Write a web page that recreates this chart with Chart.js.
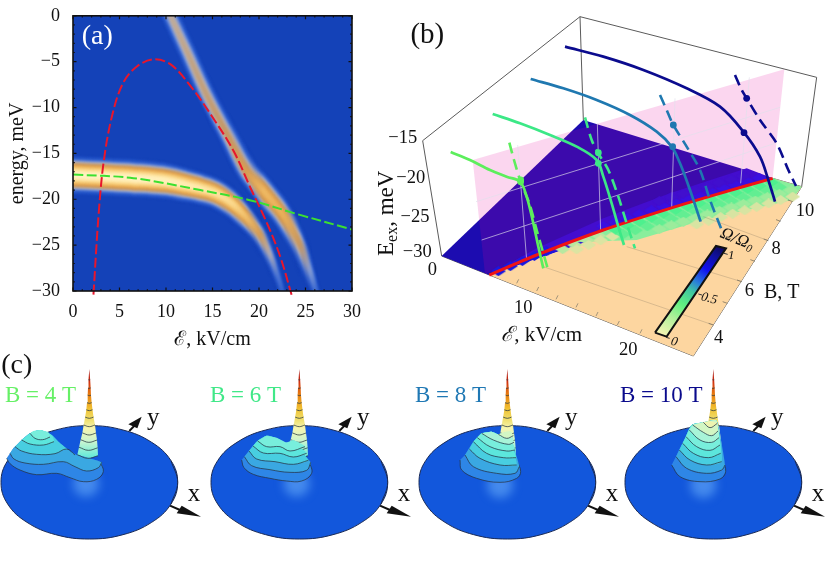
<!DOCTYPE html>
<html><head><meta charset="utf-8">
<style>html,body{margin:0;padding:0;background:#fff;overflow:hidden;width:830px;height:564px}
canvas{position:absolute;filter:blur(.4px)}</style>
<script src="https://cdn.jsdelivr.net/npm/chart.js@4/dist/chart.umd.min.js"></script>
</head><body>
<script>
/* ---------- panel (a): field (kV/cm) / energy (meV) ---------- */
const lowerField=[-1,0,3,6.5,10,12,13.7,15.5,17.3,18.5,20.1,21.2,22,22.8];
const lowerEnergy=[-17.3,-17.35,-17.5,-17.7,-18,-18.4,-18.8,-19.4,-20.6,-21.8,-23.8,-26,-28.2,-31];
const lowerWidth=[7,7,7,7,6.8,6.5,6.2,5.8,5.2,4.6,3.8,3.2,2.8,2.4];
const lowerAmp=[1,1,1,1,.95,.9,.85,.8,.7,.55,.33,.18,.1,.06];
const upperField=[10.2,10.5,12.3,14.4,16.6,18.7,20.5,22.6,24.4,25.5,26.2,26.6];
const upperEnergy=[1,0,-4,-8.7,-13,-17,-19.1,-21.7,-24.9,-27.8,-30,-31];
const upperWidth=[4.5,4.5,4.5,4.5,4.6,5,5.6,5.2,4.2,3.4,3,2.6];
const upperAmp=[.2,.2,.22,.24,.27,.33,.5,.45,.28,.14,.08,.06];
const redField=[2.2,2.75,3.3,4.2,5.4,6.9,8.7,10.5,12.6,15.1,17.3,19.1,20.9,22.3,23.5];
const redEnergy=[-30.4,-21.7,-15.9,-10.9,-7.3,-5.5,-4.75,-5.3,-7.6,-11.2,-14.8,-18.8,-22.7,-26.3,-30.4];
const greenField=[0,6.5,13.7,19,24.4,30];
const greenEnergy=[-17.3,-17.7,-19,-20.1,-21.7,-23.3];
const ticksA=[0,5,10,15,20,25,30];

/* ---------- panel (b): projected view units of the 3D box ---------- */
const boxEdges=[[[158,422],[630,50]],[[630,50],[1340,232]],[[630,50],[640,360]],[[1340,232],[1295,560]],[[158,422],[215,768]],[[215,768],[358,825]],[[358,825],[970,1068]],[[970,1068],[1295,560]],[[1208,535],[1295,560]]];
const floorBlue=[[215,768],[640,360],[1208,535],[358,825]];
const brightStrip=[[358,825],[1208,535],[1130,505],[900,580],[700,655],[500,745]];
const pinkPlane=[[308,480],[1243,208],[1208,535],[345,822]];
const planeGrid=[[[443,435],[470,780]],[[682,370],[692,695]],[[915,295],[905,625]],[[1138,232],[1112,550]],[[318,605],[1230,322]],[[335,720],[1215,430]]];
const tanFloor=[[358,825],[1208,535],[1295,560],[970,1068]];
const greenBase=[[600,727],[900,625],[1208,535],[1295,560],[1265,600],[1000,660],[800,720]];
const redLine=[[358,825],[500,765],[700,690],[900,625],[1050,580],[1208,535]];
const floorGrid=[[[520,800],[1030,975]],[[770,740],[1115,845]],[[1000,650],[1195,722]]];
const fieldTicks=[[440,850],[500,873],[558,898],[618,922],[678,948],[742,975],[810,1000]];
const bTicks=[[1030,975],[1072,910],[1115,845],[1155,784],[1195,722],[1232,664],[1268,605]];
const legendTicks=[[1062,760],[985,882],[888,1012]];
const cellRowsBack=[{dv:-12,from:700,to:1190,c:'#1a14ee'},{dv:-32,from:850,to:1130,c:'#2212d8'}];
const cellRowsFront=[{dv:0,from:385,to:560,c:'#1a18e0'},{dv:12,from:560,to:720,c:'#b8e8a0'},{dv:28,from:620,to:760,c:'#dce4a2'},{dv:12,from:720,to:1210,c:'#4ef08e'},{dv:32,from:760,to:1240,c:'#62ee92'},{dv:52,from:850,to:1270,c:'#9cec9c'},{dv:72,from:980,to:1270,c:'#d8e4a2'}];
const curves=[
 {c:'#5cee5c',solid:[[242,456],[300,480],[360,510],[410,530],[450,545],[470,590],[490,670],[505,740],[520,805]],dash:[[418,428],[432,480],[452,545],[478,610],[500,690],[520,760],[535,812]],dots:[[452,545],[452,540]]},
 {c:'#3ce886',solid:[[368,342],[450,370],[540,405],[620,440],[680,480],[700,530],[725,610],[745,680],[762,735]],dash:[[645,352],[665,420],[685,460],[715,510],[745,590],[770,670],[795,745]],dots:[[685,458],[685,490]]},
 {c:'#1f78b0',solid:[[482,237],[580,265],[680,300],[780,345],[860,395],[905,440],[930,490],[960,570],[992,665]],dash:[[870,285],[890,330],[910,375],[950,440],[990,510],[1020,600],[1055,690]],dots:[[910,375],[908,440]]},
 {c:'#0b0b8e',solid:[[585,140],[700,170],[820,210],[950,265],[1050,320],[1120,395],[1170,470],[1195,540],[1215,605]],dash:[[1095,225],[1115,270],[1130,295],[1170,360],[1220,430],[1255,510],[1278,558]],dots:[[1130,295],[1122,398]]}
];
const legendBar=[[855,998],[890,1010],[1068,745],[1038,738]];
const legendStops=[[0,'#f8f4b4'],[.2,'#b0f09a'],[.35,'#60f080'],[.5,'#40c8a0'],[.6,'#2a80d8'],[.75,'#1010f0'],[.9,'#10109c'],[1,'#0c0a60']];

/* ---------- panel (c): view units of each disk ---------- */
const diskOutline=[[513,347],[533,412],[513,477],[455,532],[369,569],[268,582],[167,569],[81,532],[23,477],[3,412],[23,347],[81,292],[167,255],[268,242],[369,255],[455,292],[513,347],[533,412],[513,477]];
const yArrowShaft=[[388,258],[410,235]], yArrowHead=[[425,215],[385,238],[412,250]];
const xArrowShaft=[[510,482],[540,495]], xArrowHead=[[603,515],[545,482],[530,505]];
const spikeRings=[[340,36,26],[316,31,25],[292,26,23],[270,21,20],[245,17,17],[220,12.5,12.5],[197,9,9.5],[175,7,7],[152,5,5],[130,4,4],[105,2.5,2.5]];
const spikeStops=[[72,'#a01010'],[110,'#d03010'],[150,'#e88010'],[190,'#f0c030'],[225,'#f0e070'],[250,'#f5f5b0'],[290,'#c8f5d0'],[330,'#70ecd8'],[360,'#50c8e8'],[395,'#2f8ae8']];
const levelColors=['#2e86e6','#3aa8e2','#48cee0','#5ce6dc','#78eedc','#a8f4d8','#d2f6c4','#eef4b0'];
const panels=[
 {label:'B = 4 T',color:'#66f066',lx:15,left:0,glow:[258,416],spikeOnTop:true,levels:[
  {arc:[[20,340],[30,356],[60,375],[110,389],[170,385],[210,398],[250,410],[290,403],[310,380],[300,350]],back:[[230,330],[205,315],[180,295],[155,270],[120,255],[90,265],[65,285],[40,310]]},
  {arc:[[30,325],[42,342],[75,354],[130,358],[190,350],[225,365],[260,378],[295,368],[305,352]],back:[[230,330],[205,315],[180,295],[155,270],[120,255],[90,265],[65,285],[40,310]]},
  {arc:[[45,305],[65,318],[110,328],[165,326],[200,312],[225,330]],back:[[175,290],[155,270],[120,255],[90,265],[65,285]]},
  {arc:[[65,285],[90,297],[130,300],[162,290]],back:[[155,270],[120,255],[90,265]]},
  {arc:[[90,265],[105,280],[128,284],[150,276]],back:[[145,262],[120,255],[100,258]]}]},
 {label:'B = 6 T',color:'#40e888',lx:0,left:210,glow:[260,416],spikeOnTop:false,levels:[
  {arc:[[95,345],[102,368],[130,388],[180,400],[230,408],[275,408],[305,385],[298,350]],back:[[250,310],[230,298],[200,280],[175,272],[140,290],[115,320]]},
  {arc:[[103,335],[125,362],[180,374],[240,382],[290,376],[302,352]],back:[[250,300],[230,298],[200,280],[170,272],[140,290],[115,320]]},
  {arc:[[117,318],[140,342],[195,350],[250,358],[295,346]],back:[[250,300],[230,298],[200,280],[170,272],[140,290]]},
  {arc:[[129,303],[160,324],[210,325],[250,336],[290,325]],back:[[250,295],[230,296],[200,280],[170,272],[145,285]]},
  {arc:[[143,288],[170,305],[210,305],[240,318],[285,305]],back:[[250,285],[230,292],[200,278],[170,272]]}]},
 {label:'B = 8 T',color:'#1f78b4',lx:-9,left:418,glow:[246,420],spikeOnTop:false,levels:[
  {arc:[[126,345],[131,375],[176,400],[246,412],[296,400],[308,380],[296,345]],back:[[285,300],[278,262],[241,268],[221,260],[191,265],[166,290],[141,330]]},
  {arc:[[141,330],[166,365],[236,385],[291,385],[304,365]],back:[[285,300],[278,262],[241,268],[221,260],[191,265],[166,290]]},
  {arc:[[154,312],[186,340],[246,360],[296,360]],back:[[282,300],[278,262],[241,268],[221,260],[191,265],[166,290]]},
  {arc:[[166,290],[206,325],[256,338],[294,338]],back:[[280,295],[278,262],[241,268],[221,260],[191,265]]},
  {arc:[[178,278],[216,305],[266,318],[291,315]],back:[[278,280],[276,262],[241,268],[221,260],[191,265]]},
  {arc:[[191,265],[226,285],[271,298],[288,292]],back:[[276,264],[241,268],[221,260]]},
  {arc:[[241,268],[266,280],[286,272]],back:[[276,258],[258,262]]}]},
 {label:'B = 10 T',color:'#0a0a8c',lx:-12,left:624,glow:[238,420],spikeOnTop:false,levels:[
  {arc:[[143,360],[168,395],[228,410],[288,402],[305,380],[296,345]],back:[[285,260],[276,226],[238,232],[203,240],[183,280],[158,330]]},
  {arc:[[156,335],[188,370],[248,385],[293,375],[303,360]],back:[[284,250],[276,226],[238,232],[203,240],[183,280]]},
  {arc:[[166,315],[198,345],[248,360],[293,350]],back:[[284,250],[276,226],[238,232],[203,240],[183,280]]},
  {arc:[[176,295],[208,325],[253,338],[290,325]],back:[[282,250],[276,226],[238,232],[203,240],[186,275]]},
  {arc:[[186,275],[218,305],[258,316],[288,300]],back:[[280,240],[276,226],[238,232],[203,240]]},
  {arc:[[196,255],[228,285],[263,292],[285,278]],back:[[280,235],[276,226],[238,232],[208,238]]},
  {arc:[[206,240],[238,262],[263,272],[282,258]],back:[[276,226],[238,232]]},
  {arc:[[238,232],[258,248],[280,235]],back:[[258,228]]}]}
];
const serif='"Liberation Serif",serif';

/* ---------- helpers ---------- */
const xy=a=>a.map(([x,y])=>({x,y}));
const line=(pts,color,w,extra={})=>Object.assign({data:xy(pts),showLine:true,pointRadius:0,borderColor:color,borderWidth:w,tension:0,fill:false},extra);
const poly=(pts,color,extra={})=>Object.assign({data:xy(pts),showLine:true,pointRadius:0,borderWidth:0,borderColor:'rgba(0,0,0,0)',backgroundColor:color,fill:'shape',tension:0},extra);
const segs=pairs=>pairs.flatMap(p=>[p[0],p[1],[NaN,NaN]]);
const tickPairs=(list,dx,dy)=>list.map(([u,v])=>[[u,v],[u+dx,v+dy]]);

function textPlugin(items){return{id:'viewText',afterDatasetsDraw(chart){
  const c=chart.ctx,X=chart.scales.x,Y=chart.scales.y;
  for(const it of items){
    c.save();c.translate(X.getPixelForValue(it.x),Y.getPixelForValue(it.y));c.rotate((it.rot||0)*Math.PI/180);
    c.fillStyle=it.color||'#111';c.textBaseline='alphabetic';c.textAlign='left';
    const parts=it.parts||[{t:it.t,font:it.font}];
    let w=0;for(const p of parts){c.font=p.font;w+=c.measureText(p.t).width;}
    let x=it.align==='left'?0:-w/2;
    for(const p of parts){c.font=p.font;c.fillText(p.t,x,p.dy||0);x+=c.measureText(p.t).width;}
    c.restore();
  }}};}
const softPlugin={id:'soft',beforeDatasetDraw(ch,args){const b=ch.data.datasets[args.index].blurPx;if(b)ch.ctx.filter=`blur(${b}px)`;},
  afterDatasetDraw(ch){ch.ctx.filter='none';}};
function makeCanvas(left,top,w,h){const k=document.createElement('canvas');k.width=w;k.height=h;k.style.cssText=`left:${left}px;top:${top}px;width:${w}px;height:${h}px`;document.body.appendChild(k);return k;}
function viewChart(k,paintOrder,xr,yr,plugins){
  return new Chart(k,{type:'scatter',data:{datasets:paintOrder.slice().reverse()},plugins:[softPlugin,...plugins],options:{responsive:false,animation:false,devicePixelRatio:1,events:[],
    layout:{padding:0,autoPadding:false},plugins:{legend:{display:false},tooltip:{enabled:false}},
    scales:{x:{display:false,min:xr[0],max:xr[1]},y:{display:false,min:yr[0],max:yr[1],reverse:true}}}});
}

/* ---------- panel (a) ---------- */
const stops=[[0,[20,64,184]],[.06,[40,90,205]],[.12,[120,150,220]],[.18,[190,175,165]],[.25,[195,150,100]],[.35,[225,160,75]],[.6,[248,205,120]],[.85,[255,235,175]],[1,[255,242,195]]];
function heat(I){
  if(I<.025)return'rgba(20,64,184,0)';
  for(let i=1;i<stops.length;i++){if(I<=stops[i][0]){const a=stops[i-1],b=stops[i],f=(I-a[0])/(b[0]-a[0]);
    return`rgb(${a[1].map((v,j)=>Math.round(v+(b[1][j]-v)*f)).join(',')})`;}}
  return'rgb(255,242,195)';
}
const plotLeft=73,plotRight=352;
function bandLayers(fx,fy,sig,amp){
  const out=[];
  for(let w=40;w>=2;w-=2){
    out.push({blurPx:1.3,data:fx.map((x,i)=>({x,y:fy[i]})),showLine:true,pointRadius:0,tension:.35,borderWidth:w,borderCapStyle:'butt',borderJoinStyle:'round',
      borderColor:ctx=>{
        const g=ctx.chart.ctx.createLinearGradient(plotLeft,0,plotRight,0),h=w/2;
        fx.forEach((x,i)=>{const off=Math.min(1,Math.max(0,x/30));g.addColorStop(off,heat(amp[i]*Math.exp(-h*h/(2*sig[i]*sig[i]))));});
        return g;}});
  }
  return out;
}
const bgPlugin={id:'plotBg',beforeDatasetsDraw(ch){const a=ch.chartArea,c=ch.ctx;c.save();c.fillStyle='#1442b8';c.fillRect(a.left,a.top,a.width,a.height);c.restore();}};
const framePlugin={id:'frameTicks',afterDatasetsDraw(ch){
  const a=ch.chartArea,c=ch.ctx,X=ch.scales.x,Y=ch.scales.y;
  c.save();c.strokeStyle='#111';c.lineWidth=1.6;c.strokeRect(a.left,a.top,a.width,a.height);c.lineWidth=1.2;c.beginPath();
  for(let v=0;v<=30;v++){const l=v%5===0?3.5:1.8,px=X.getPixelForValue(v),py=Y.getPixelForValue(-v);
    c.moveTo(px,a.bottom);c.lineTo(px,a.bottom-l);c.moveTo(px,a.top);c.lineTo(px,a.top+l);
    c.moveTo(a.left,py);c.lineTo(a.left+l,py);c.moveTo(a.right,py);c.lineTo(a.right-l,py);}
  c.stroke();c.restore();}};
const aDatasets=[...bandLayers(lowerField,lowerEnergy,lowerWidth,lowerAmp),...bandLayers(upperField,upperEnergy,upperWidth,upperAmp),
  {data:redField.map((x,i)=>({x,y:redEnergy[i]})),showLine:true,pointRadius:0,tension:.35,borderColor:'#e8162c',borderWidth:2,borderDash:[10,3.5],clip:false},
  {data:greenField.map((x,i)=>({x,y:greenEnergy[i]})),showLine:true,pointRadius:0,tension:.35,borderColor:'#3ce030',borderWidth:2,borderDash:[10,3.5]}];
new Chart(makeCanvas(0,0,370,350),{type:'scatter',data:{datasets:aDatasets.slice().reverse()},
  plugins:[softPlugin,bgPlugin,framePlugin,textPlugin([{t:'(a)',x:2.6,y:-3.1,font:'28px '+serif,color:'#fff'}])],
  options:{responsive:false,animation:false,devicePixelRatio:1,events:[],layout:{padding:{top:13,right:18,left:0,bottom:0},autoPadding:false},
    plugins:{legend:{display:false},tooltip:{enabled:false}},
    scales:{
      x:{min:0,max:30,afterFit:s=>{s.height=59},grid:{display:false},border:{display:false},
        afterBuildTicks:s=>{s.ticks=ticksA.map(v=>({value:v}))},
        ticks:{color:'#111',padding:2,maxRotation:0,font:{family:'Liberation Serif',size:18}},
        title:{display:true,text:'ℰ, kV/cm',color:'#111',padding:{top:0,bottom:-2},font:{family:'Liberation Serif',size:20}}},
      y:{min:-30,max:0,afterFit:s=>{s.width=73},grid:{display:false},border:{display:false},
        afterBuildTicks:s=>{s.ticks=ticksA.map(v=>({value:-v}))},
        ticks:{color:'#111',padding:5,font:{family:'Liberation Serif',size:18},callback:v=>String(v).replace('-','−')},
        title:{display:true,text:'energy, meV',color:'#111',padding:{top:6,bottom:0},font:{family:'Liberation Serif',size:20}}}
    }}});

/* ---------- panel (b) ---------- */
function redAt(u){
  for(let i=1;i<redLine.length;i++){if(u<=redLine[i][0]||i===redLine.length-1){const a=redLine[i-1],b=redLine[i];return a[1]+(b[1]-a[1])*(u-a[0])/(b[0]-a[0]);}}
}
function diamond(color){const k=document.createElement('canvas');k.width=15;k.height=10;const c=k.getContext('2d');c.fillStyle=color;c.beginPath();c.moveTo(0,5);c.lineTo(7.5,0);c.lineTo(15,5);c.lineTo(7.5,10);c.closePath();c.fill();return k;}
function cellSets(rows){return rows.map((r,ri)=>{const pts=[];for(let u=r.from+(ri%2)*18;u<=r.to;u+=36)pts.push([u,redAt(u)+r.dv]);
  return{data:xy(pts),showLine:false,pointRadius:5,pointStyle:diamond(r.c),pointBorderWidth:0};});}
const bPaint=[
  line(segs(boxEdges),'#5a5a5a',1),
  poly(floorBlue,'#1c0cb0'),
  poly(brightStrip,'#2410d8'),
  ...cellSets(cellRowsBack),
  poly(pinkPlane,'rgba(233,0,153,.16)'),
  line(segs(planeGrid),'rgba(225,225,235,.65)',1),
  poly(tanFloor,'#fdd6a0'),
  poly(greenBase,'#8aee9c'),
  ...cellSets(cellRowsFront),
  line(segs(floorGrid),'rgba(120,110,90,.35)',.8),
  line(segs(tickPairs(fieldTicks,6,-12)),'rgba(110,110,100,.8)',.8),
  line(segs(tickPairs(bTicks,-14,-5)),'rgba(90,90,80,.8)',.8),
  line(redLine,'#f01414',3,{tension:.3}),
];
curves.forEach(c=>{
  bPaint.push(line(c.dash,c.c,2.6,{borderDash:[11,6],tension:.3}));
  bPaint.push(line(c.solid,c.c,2.7,{tension:.35}));
  bPaint.push({data:xy(c.dots),showLine:false,pointRadius:3.4,pointBackgroundColor:c.c,pointBorderWidth:0});
});
bPaint.push(poly(legendBar,ctx=>{
  const g=ctx.chart.ctx.createLinearGradient(873/3,1005/3,1053/3,742/3);
  legendStops.forEach(s=>g.addColorStop(s[0],s[1]));return g;},{borderWidth:2,borderColor:'#111',data:xy(legendBar.concat([legendBar[0]]))}));
bPaint.push(line(segs(tickPairs(legendTicks,11,3)),'#333',1));
const f18='18.5px '+serif;
const bLabels=[
 {t:'(b)',x:172,y:128,font:'29px '+serif},
 {t:'−15',x:98,y:429,font:f18},{t:'−20',x:122,y:549,font:f18},{t:'−25',x:135,y:667,font:f18},{t:'−30',x:142,y:771,font:f18},
 {t:'0',x:187,y:825,font:f18},{t:'10',x:460,y:939,font:f18},{t:'20',x:775,y:1065,font:f18},
 {t:'4',x:1046,y:1029,font:f18},{t:'6',x:1138,y:889,font:f18},{t:'8',x:1218,y:762,font:f18},{t:'10',x:1305,y:647,font:f18},
 {t:'B, T',x:1235,y:893,font:'20px '+serif},
 {parts:[{t:'ℰ',font:'italic 21px '+serif},{t:', kV/cm',font:'21px '+serif}],x:515,y:1022},
 {parts:[{t:'E',font:'23px '+serif},{t:'ex',font:'16px '+serif,dy:4},{t:', meV',font:'23px '+serif}],x:68,y:640,rot:-90},
 {parts:[{t:'Ω/Ω',font:'italic 17px '+serif},{t:'0',font:'italic 11px '+serif,dy:3}],x:1096,y:730,rot:22},
 {t:'1',x:1084,y:778,font:'italic 13px '+serif},{t:'0.5',x:1015,y:906,font:'italic 13px '+serif,rot:14},{t:'0',x:910,y:1036,font:'italic 13px '+serif,rot:14},
];
viewChart(makeCanvas(370,0,460,370),bPaint,[0,1380],[0,1110],[textPlugin(bLabels)]);

/* ---------- panel (c) ---------- */
function spikeSets(){
  const fill=ctx=>{const g=ctx.chart.ctx.createLinearGradient(0,72/3,0,395/3);
    spikeStops.forEach(s=>g.addColorStop((s[0]-72)/(395-72),s[1]));return g;};
  const cx=268,left=spikeRings.map(([v,wl])=>[cx-wl,v-wl*.3]),right=spikeRings.slice().reverse().map(([v,wl,wr])=>[cx+wr,v-wr*.3]);
  const base=spikeRings[0];
  const outline=[...left,[cx,72],...right,[cx,base[0]]];
  const sets=[poly(outline,fill,{tension:0})];
  spikeRings.forEach(([v,wl,wr])=>sets.push(line([[cx-wl,v-wl*.3],[cx-(wl-wr)/2,v],[cx+wr,v-wr*.3]],'rgba(40,55,65,.85)',.9,{tension:.4})));
  return sets;
}
function humpSets(levels){
  const sets=[];
  levels.forEach((l,i)=>{
    sets.push(poly(l.arc.concat(l.back),levelColors[i],{tension:.2}));
    sets.push(line(l.arc,'rgba(40,55,70,.85)',.9,{tension:.4}));
  });
  return sets;
}
panels.forEach((p,pi)=>{
  const paint=[
    line(yArrowShaft,'#111',2),poly(yArrowHead,'#111'),
    line(xArrowShaft,'#111',2),poly(xArrowHead,'#111'),
    poly(diskOutline,'#1257dc',{borderWidth:1,borderColor:'#1a2a55',tension:.4}),
    {blurPx:5,data:xy([p.glow]),showLine:false,pointRadius:13,pointBackgroundColor:'rgba(120,190,255,.5)',pointBorderWidth:0},
    ...(p.spikeOnTop?[...humpSets(p.levels),...spikeSets()]:[...spikeSets(),...humpSets(p.levels)])
  ];
  const labels=[
    {t:p.label,x:p.lx,y:172,font:'23px '+serif,color:p.color,align:'left'},
    {t:'y',x:460,y:240,font:'25px '+serif},{t:'x',x:582,y:468,font:'25px '+serif}
  ];
  if(pi===0)labels.push({t:'(c)',x:50,y:85,font:'28px '+serif});
  viewChart(makeCanvas(p.left-12,345,222,200),paint,[-36,630],[0,600],[textPlugin(labels)]);
});
</script>
</body></html>
